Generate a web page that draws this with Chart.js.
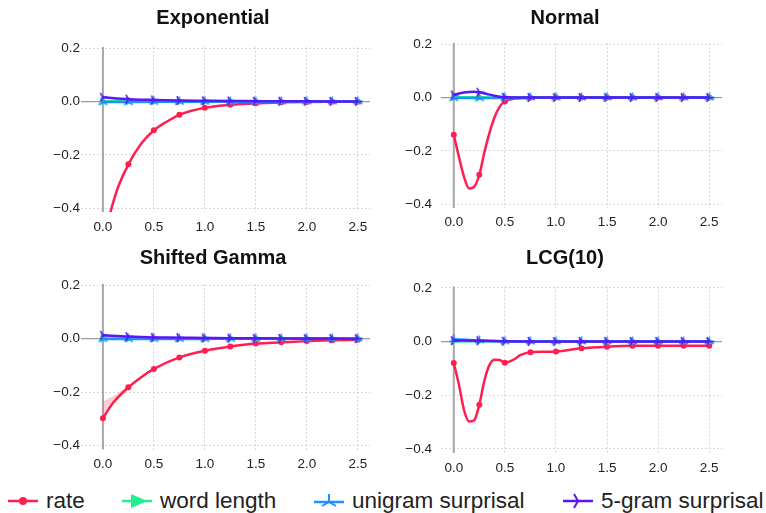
<!DOCTYPE html>
<html>
<head>
<meta charset="utf-8">
<script src="https://cdn.jsdelivr.net/npm/chart.js@4.4.1/dist/chart.umd.min.js"></script>
<style>
  body { margin: 0; background: #fff; }
  #wrap { position: relative; width: 766px; height: 513px; overflow: hidden; font-family: "Liberation Sans", Arial, sans-serif; }
  canvas.panel { position: absolute; }
  .title { position: absolute; width: 300px; text-align: center; font-weight: bold; font-size: 20px; line-height: 24px; color: #111; }
  .leg { position: absolute; top: 487px; height: 28px; display: flex; align-items: center; font-size: 22.5px; color: #222; white-space: nowrap; }
  .leg svg { margin-right: 7px; }
</style>
</head>
<body>
<div id="wrap">
  <canvas class="panel" id="c0" width="383" height="240" style="left:0;top:0"></canvas>
  <canvas class="panel" id="c1" width="383" height="240" style="left:383px;top:0"></canvas>
  <canvas class="panel" id="c2" width="383" height="240" style="left:0;top:240px"></canvas>
  <canvas class="panel" id="c3" width="383" height="240" style="left:383px;top:240px"></canvas>
  <div class="title" style="left:63px;top:5px">Exponential</div>
  <div class="title" style="left:415px;top:5px">Normal</div>
  <div class="title" style="left:63px;top:245px">Shifted Gamma</div>
  <div class="title" style="left:415px;top:245px">LCG(10)</div>

  <div class="leg" style="left:7px">
    <svg width="32" height="14"><line x1="1" y1="7" x2="31" y2="7" stroke="#ff1f4f" stroke-width="2.5"/><circle cx="16" cy="7" r="4" fill="#ff1f4f"/></svg>rate</div>
  <div class="leg" style="left:121px">
    <svg width="32" height="16"><line x1="1" y1="8" x2="31" y2="8" stroke="#1ff08c" stroke-width="2.5"/><polygon points="10,1 26,8 10,15" fill="#1ff08c"/></svg>word length</div>
  <div class="leg" style="left:313px">
    <svg width="32" height="16"><line x1="1" y1="9" x2="31" y2="9" stroke="#1e90ff" stroke-width="2.5"/><g stroke="#1e90ff" stroke-width="2"><line x1="16" y1="9" x2="16" y2="1"/><line x1="16" y1="9" x2="9" y2="13"/><line x1="16" y1="9" x2="23" y2="13"/></g></svg>unigram surprisal</div>
  <div class="leg" style="left:562px">
    <svg width="32" height="16"><line x1="1" y1="8" x2="31" y2="8" stroke="#5a17f5" stroke-width="2.5"/><g stroke="#5a17f5" stroke-width="2"><line x1="16" y1="8" x2="24" y2="8"/><line x1="16" y1="8" x2="12" y2="1"/><line x1="16" y1="8" x2="12" y2="15"/></g></svg>5-gram surprisal</div>
</div>

<script>
// valeurs
const gridX = [0, 0.25, 0.5, 0.75, 1, 1.25, 1.5, 1.75, 2, 2.25, 2.5];
const xTickLabels = ["0.0", "0.5", "1.0", "1.5", "2.0", "2.5"];
const yTickLabels = ["\u22120.4", "\u22120.2", "0.0", "0.2"];

// Exponential
const expRateX = [0, 0.05, 0.1, 0.15, 0.25, 0.375, 0.5, 0.625, 0.75, 1, 1.25, 1.5, 1.75, 2, 2.25, 2.5];
const expRateY = [-0.52, -0.45, -0.38, -0.32, -0.236, -0.159, -0.108, -0.076, -0.05, -0.0235, -0.0123, -0.006, -0.003, -0.0015, -0.0008, -0.0004];
const expWordY = [0.001, 0.001, 0.001, 0.001, 0.001, 0.001, 0.001, 0.001, 0.001, 0.001, 0.001];
const expUniY = [-0.002, -0.002, -0.001, -0.001, -0.001, -0.001, -0.001, 0, 0, 0, 0];
const exp5gY = [0.016, 0.009, 0.006, 0.004, 0.003, 0.002, 0.0015, 0.001, 0.0008, 0.0005, 0.0003];

// Normal
const normRateX = [0, 0.05, 0.1, 0.15, 0.2, 0.25, 0.3, 0.35, 0.4, 0.45, 0.5, 0.6, 0.75, 1, 1.25, 1.5, 1.75, 2, 2.25, 2.5];
const normRateY = [-0.14, -0.222, -0.298, -0.342, -0.335, -0.29, -0.205, -0.132, -0.073, -0.034, -0.015, -0.004, -0.001, 0, 0, 0, 0, 0, 0, 0];
const normWordY = [0.001, 0.001, 0, 0, 0, 0, 0, 0, 0, 0, 0];
const normUniY = [-0.002, -0.002, -0.001, 0, 0, 0, 0, 0, 0, 0, 0];
const norm5gX = [0, 0.1, 0.2, 0.25, 0.35, 0.5, 0.75, 1, 1.25, 1.5, 1.75, 2, 2.25, 2.5];
const norm5gY = [0.01, 0.019, 0.022, 0.02, 0.011, 0.001, 0, 0, 0, 0, 0, 0, 0, 0];

// Shifted Gamma
const sgRateX = [0, 0.1, 0.25, 0.375, 0.5, 0.75, 1, 1.25, 1.5, 1.75, 2, 2.25, 2.5];
const sgRateY = [-0.298, -0.24, -0.182, -0.144, -0.113, -0.07, -0.045, -0.029, -0.018, -0.0135, -0.009, -0.006, -0.004];
const sgBandX = [0, 0.1, 0.25, 0.5, 0.75];
const sgBandHi = [-0.235, -0.215, -0.176, -0.11, -0.069];
const sgBandLo = [-0.3, -0.245, -0.186, -0.116, -0.071];
const sgWordY = [0.001, 0.001, 0.001, 0.001, 0.001, 0.001, 0.001, 0.001, 0.001, 0.001, 0.001];
const sgUniY = [-0.001, -0.001, -0.001, -0.001, -0.001, 0, 0, 0, 0, 0, 0];
const sg5gY = [0.013, 0.008, 0.005, 0.004, 0.003, 0.002, 0.0015, 0.001, 0.0008, 0.0005, 0.0003];

// LCG(10)
const lcgRateX = [0, 0.05, 0.1, 0.15, 0.2, 0.25, 0.3, 0.35, 0.4, 0.45, 0.5, 0.55, 0.6, 0.65, 0.75, 0.875, 1, 1.25, 1.5, 1.75, 2, 2.25, 2.5];
const lcgRateY = [-0.08, -0.16, -0.255, -0.298, -0.293, -0.235, -0.145, -0.087, -0.068, -0.069, -0.079, -0.074, -0.064, -0.051, -0.04, -0.038, -0.037, -0.025, -0.019, -0.016, -0.016, -0.016, -0.016];
const lcgWordY = [0.001, 0.001, 0.001, 0, 0, 0, 0, 0, 0, 0, 0];
const lcgUniY = [0.008, 0.004, 0.001, 0, 0, 0, 0, 0, 0, 0, 0];
const lcgUniBandX = [0, 0.25, 0.5];
const lcgUniBandHi = [0.016, 0.007, 0.001];
const lcgUniBandLo = [0.001, 0.001, -0.001];
const lcg5gY = [0.004, 0.003, 0.001, 0.0005, 0, 0, 0, 0, 0, 0, 0];

const RED = "#ff1f4f", GREEN = "#1ff08c", BLUE = "#1e90ff", PURPLE = "#5a17f5";

// petits marqueurs "tri" de matplotlib
function triMarker(color, angles, size) {
    const c = document.createElement("canvas");
    c.width = size; c.height = size;
    const g = c.getContext("2d");
    g.strokeStyle = color;
    g.lineWidth = 1.6;
    const r = size / 2;
    angles.forEach(a => {
        const rad = a * Math.PI / 180;
        g.beginPath();
        g.moveTo(r, r);
        g.lineTo(r + Math.cos(rad) * (r - 0.5), r - Math.sin(rad) * (r - 0.5));
        g.stroke();
    });
    return c;
}
const triUp = triMarker(BLUE, [90, 210, 330], 11);
const triRight = triMarker(PURPLE, [0, 120, 240], 11);

function pts(xs, ys) { return xs.map((x, i) => ({ x: x, y: ys[i] })); }
const onGrid = x => Math.abs(x * 4 - Math.round(x * 4)) < 1e-6;

function series(label, data, color, style, radius, order) {
    return {
        label: label,
        data: data,
        borderColor: color,
        backgroundColor: color,
        borderWidth: 2.5,
        cubicInterpolationMode: "monotone",
        pointStyle: style,
        pointRotation: style === "triangle" ? 90 : 0,
        pointRadius: ctx => (ctx.raw && onGrid(ctx.raw.x)) ? radius : 0,
        pointBorderWidth: 0,
        fill: false,
        order: order
    };
}
function band(data, color, fillTo) {
    return { data: data, borderWidth: 0, pointRadius: 0, backgroundColor: color,
             cubicInterpolationMode: "monotone", fill: fillTo, order: 10 };
}

// lignes grises x=0 et y=0
const zeroLines = {
    id: "zeroLines",
    beforeDatasetsDraw(chart) {
        const { ctx, chartArea: a, scales } = chart;
        const y0 = scales.y.getPixelForValue(0);
        const x0 = scales.x.getPixelForValue(0);
        ctx.save();
        ctx.strokeStyle = "#9a9a9a";
        ctx.lineWidth = 1.3;
        ctx.beginPath(); ctx.moveTo(a.left, y0); ctx.lineTo(a.right, y0); ctx.stroke();
        ctx.strokeStyle = "#a6a6a6";
        ctx.lineWidth = 2;
        ctx.beginPath(); ctx.moveTo(x0, a.top); ctx.lineTo(x0, a.bottom); ctx.stroke();
        ctx.restore();
    }
};

const tickFont = { family: "Liberation Sans", size: 13.5 };

function makePanel(id, datasets, box) {
    const yW = 40, xH = 25;
    new Chart(document.getElementById(id), {
        type: "line",
        data: { datasets: datasets },
        plugins: [zeroLines],
        options: {
            responsive: false,
            animation: false,
            events: [],
            layout: { padding: { left: box.left - yW, right: 383 - box.right, top: box.top, bottom: 240 - box.bottom - xH } },
            plugins: { legend: { display: false }, tooltip: { enabled: false } },
            scales: {
                x: {
                    type: "linear", min: box.xmin, max: box.xmax,
                    afterFit: s => { s.height = xH; },
                    grid: { drawTicks: false, color: "#cfcfcf", lineWidth: 0.8 },
                    border: { display: false, dash: [2, 2] },
                    ticks: { stepSize: 0.5, includeBounds: false, padding: box.xpad, color: "#222",
                             font: tickFont,
                             callback: v => xTickLabels[Math.round(v * 2)] }
                },
                y: {
                    min: -0.415, max: 0.205,
                    afterFit: s => { s.width = yW; },
                    grid: { drawTicks: false, color: "#cfcfcf", lineWidth: 0.8 },
                    border: { display: false, dash: [2, 2] },
                    ticks: { stepSize: 0.2, includeBounds: false, padding: box.ypad, color: "#222",
                             font: tickFont,
                             callback: v => yTickLabels[Math.round((v + 0.4) * 5)] }
                }
            }
        }
    });
}

makePanel("c0", [
    series("5-gram surprisal", pts(gridX, exp5gY), PURPLE, triRight, 5, 0),
    series("unigram surprisal", pts(gridX, expUniY), BLUE, triUp, 5, 1),
    series("word length", pts(gridX, expWordY), GREEN, "triangle", 5, 2),
    series("rate", pts(expRateX, expRateY), RED, "circle", 3, 3)
], { left: 81, right: 370, top: 47, bottom: 212, xmin: -0.215, xmax: 2.62, ypad: 1, xpad: 7.5 });

makePanel("c1", [
    series("5-gram surprisal", pts(norm5gX, norm5gY), PURPLE, triRight, 5, 0),
    series("unigram surprisal", pts(gridX, normUniY), BLUE, triUp, 5, 1),
    series("word length", pts(gridX, normWordY), GREEN, "triangle", 5, 2),
    series("rate", pts(normRateX, normRateY), RED, "circle", 3, 3)
], { left: 58, right: 339, top: 43, bottom: 208, xmin: -0.125, xmax: 2.625, ypad: 9, xpad: 6.5 });

makePanel("c2", [
    series("5-gram surprisal", pts(gridX, sg5gY), PURPLE, triRight, 5, 0),
    series("unigram surprisal", pts(gridX, sgUniY), BLUE, triUp, 5, 1),
    series("word length", pts(gridX, sgWordY), GREEN, "triangle", 5, 2),
    series("rate", pts(sgRateX, sgRateY), RED, "circle", 3, 3),
    band(pts(sgBandX, sgBandHi), "rgba(255,31,79,0.22)", "+1"),
    band(pts(sgBandX, sgBandLo), "rgba(255,31,79,0.22)", false)
], { left: 81, right: 370, top: 44, bottom: 209.5, xmin: -0.215, xmax: 2.62, ypad: 1, xpad: 6.5 });

makePanel("c3", [
    series("5-gram surprisal", pts(gridX, lcg5gY), PURPLE, triRight, 5, 0),
    series("unigram surprisal", pts(gridX, lcgUniY), BLUE, triUp, 5, 1),
    series("word length", pts(gridX, lcgWordY), GREEN, "triangle", 5, 2),
    series("rate", pts(lcgRateX, lcgRateY), RED, "circle", 3, 3),
    band(pts(lcgUniBandX, lcgUniBandHi), "rgba(30,144,255,0.35)", "+1"),
    band(pts(lcgUniBandX, lcgUniBandLo), "rgba(30,144,255,0.35)", false)
], { left: 58, right: 339, top: 46.5, bottom: 213, xmin: -0.125, xmax: 2.625, ypad: 9, xpad: 7.5 });
</script>
</body>
</html>
